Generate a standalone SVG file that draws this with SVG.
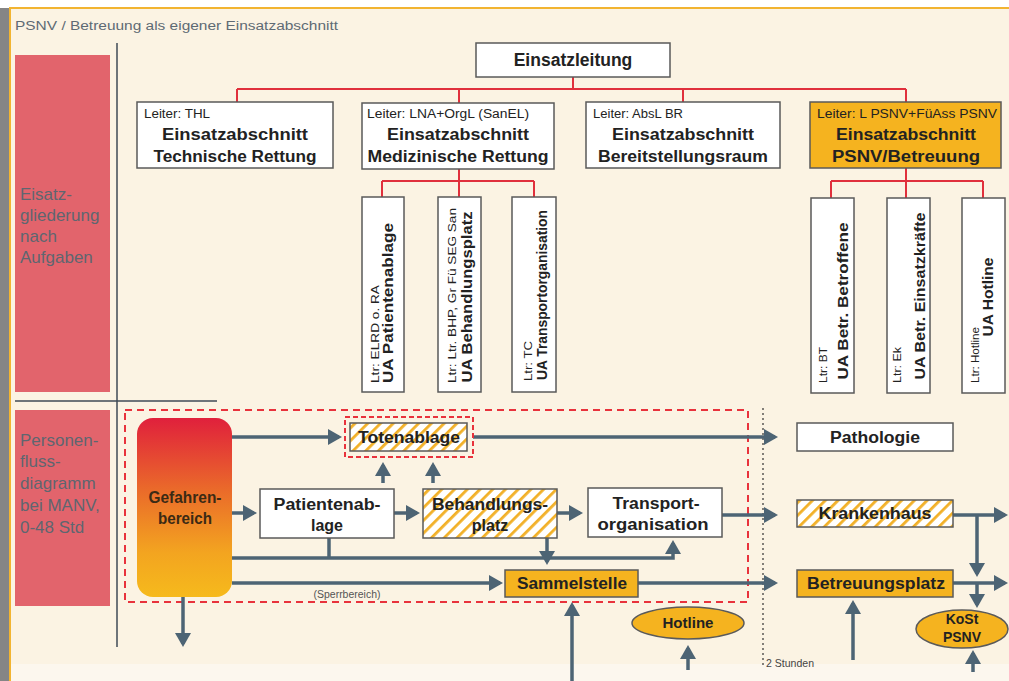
<svg xmlns="http://www.w3.org/2000/svg" width="1009" height="681" viewBox="0 0 1009 681">
<defs>
<style>
.bx{fill:#ffffff;stroke:#5a5a5a;stroke-width:1.5}
.or{fill:#f5b31f;stroke:#5a5a5a;stroke-width:1.5}
.ht{fill:url(#hatch);stroke:#5a5a5a;stroke-width:1.5}
.red{fill:none;stroke:#e0303c;stroke-width:2}
.ar{fill:none;stroke:#4d6474;stroke-width:3.5;marker-end:url(#ah)}
.ln{fill:none;stroke:#4d6474;stroke-width:3.5}
.t{font-family:"Liberation Sans",Arial,sans-serif;fill:#222}
.b{font-weight:bold}
.sm{font-size:12px}
.bg{font-size:16px}
.lbl{font-family:"Liberation Sans",Arial,sans-serif;font-size:17px;fill:#5e6670}
</style>
<pattern id="hatch" patternUnits="userSpaceOnUse" width="9" height="9" patternTransform="rotate(45)">
<rect width="9" height="9" fill="#ffffff"/>
<rect width="2.8" height="9" fill="#f2b027"/>
</pattern>
<linearGradient id="gef" x1="0" y1="0" x2="0" y2="1">
<stop offset="0" stop-color="#e0203c"/>
<stop offset="0.4" stop-color="#ea6a2a"/>
<stop offset="0.75" stop-color="#f3a420"/>
<stop offset="1" stop-color="#f6ba1c"/>
</linearGradient>
<marker id="ah" markerUnits="userSpaceOnUse" markerWidth="14" markerHeight="16" refX="11" refY="8" orient="auto">
<path d="M0,0 L14,8 L0,16 z" fill="#4d6474"/>
</marker>
</defs>

<!-- background / frame -->
<rect x="0" y="0" width="1009" height="681" fill="#ffffff"/>
<rect x="0" y="8" width="9" height="673" fill="#858585"/>
<rect x="10" y="8" width="1010" height="690" fill="#fbf3e3" stroke="#f2b431" stroke-width="2"/>
<rect x="11" y="664" width="998" height="17" fill="#fcf7ee"/>
<text x="15" y="30" font-family="Liberation Sans, Arial, sans-serif" font-size="12.5" fill="#5e6a74" textLength="323" lengthAdjust="spacingAndGlyphs">PSNV / Betreuung als eigener Einsatzabschnitt</text>

<!-- side panels -->
<g id="panel-top">
<rect x="15" y="55" width="95" height="337" fill="#e2646c"/>
<text class="lbl" x="20" y="200">Eisatz-</text>
<text class="lbl" x="20" y="221">gliederung</text>
<text class="lbl" x="20" y="242">nach</text>
<text class="lbl" x="20" y="263">Aufgaben</text>
</g>
<g id="panel-bottom">
<rect x="15" y="410" width="95" height="196" fill="#e2646c"/>
<text class="lbl" x="20" y="446">Personen-</text>
<text class="lbl" x="20" y="467">fluss-</text>
<text class="lbl" x="20" y="489">diagramm</text>
<text class="lbl" x="20" y="511">bei MANV,</text>
<text class="lbl" x="20" y="533">0-48 Std</text>
</g>
<line x1="117" y1="43" x2="117" y2="647" stroke="#3f4a56" stroke-width="1.5"/>
<line x1="15" y1="401" x2="217" y2="401" stroke="#3f4a56" stroke-width="1.5"/>

<!-- org chart connectors -->
<g id="org-connectors">
<path class="red" d="M573,77 V89 M237,89 H906 M237,89 V102 M459,89 V103 M683,89 V102 M906,89 V102"/>
<path class="red" d="M459,169 V181 M382,181 H534 M382,181 V197 M459,181 V197 M534,181 V197"/>
<path class="red" d="M906,168 V181 M831,181 H983 M831,181 V198 M906,181 V198 M983,181 V198"/>
</g>

<g id="einsatzleitung">
<rect class="bx" x="476" y="43" width="194" height="34"/>
<text class="t b" x="573" y="66" font-size="17.5" text-anchor="middle">Einsatzleitung</text>
</g>

<g id="ea-thl">
<rect class="bx" x="137" y="102" width="196" height="66"/>
<text class="t sm" x="144" y="118" textLength="66" lengthAdjust="spacingAndGlyphs">Leiter: THL</text>
<text class="t b bg" x="235" y="140" text-anchor="middle" textLength="146" lengthAdjust="spacingAndGlyphs">Einsatzabschnitt</text>
<text class="t b bg" x="235" y="162" text-anchor="middle" textLength="163" lengthAdjust="spacingAndGlyphs">Technische Rettung</text>
</g>
<g id="ea-med">
<rect class="bx" x="362" y="103" width="192" height="66"/>
<text class="t sm" x="367" y="118" textLength="162" lengthAdjust="spacingAndGlyphs">Leiter: LNA+OrgL (SanEL)</text>
<text class="t b bg" x="458" y="140" text-anchor="middle" textLength="142" lengthAdjust="spacingAndGlyphs">Einsatzabschnitt</text>
<text class="t b bg" x="458" y="162" text-anchor="middle" textLength="181" lengthAdjust="spacingAndGlyphs">Medizinische Rettung</text>
</g>
<g id="ea-br">
<rect class="bx" x="586" y="102" width="194" height="66"/>
<text class="t sm" x="593" y="118" textLength="90" lengthAdjust="spacingAndGlyphs">Leiter: AbsL BR</text>
<text class="t b bg" x="683" y="140" text-anchor="middle" textLength="142" lengthAdjust="spacingAndGlyphs">Einsatzabschnitt</text>
<text class="t b bg" x="683" y="162" text-anchor="middle" textLength="170" lengthAdjust="spacingAndGlyphs">Bereitstellungsraum</text>
</g>
<g id="ea-psnv">
<rect class="or" x="810" y="102" width="191" height="66"/>
<text class="t sm" x="817" y="118" textLength="180" lengthAdjust="spacingAndGlyphs">Leiter: L PSNV+FüAss PSNV</text>
<text class="t b bg" x="906" y="140" text-anchor="middle" textLength="140" lengthAdjust="spacingAndGlyphs">Einsatzabschnitt</text>
<text class="t b bg" x="906" y="162" text-anchor="middle" textLength="148" lengthAdjust="spacingAndGlyphs">PSNV/Betreuung</text>
</g>

<!-- UA boxes -->
<g id="ua-patientenablage">
<rect class="bx" x="362" y="197" width="42" height="195"/>
<text class="t" font-size="11.5" transform="translate(379,383) rotate(-90)" textLength="98" lengthAdjust="spacingAndGlyphs">Ltr: ELRD o. RA</text>
<text class="t b" font-size="14" text-anchor="middle" transform="translate(393,303) rotate(-90)" textLength="160" lengthAdjust="spacingAndGlyphs">UA Patientenablage</text>
</g>
<g id="ua-behandlungsplatz">
<rect class="bx" x="438" y="197" width="43" height="195"/>
<text class="t" font-size="11.5" transform="translate(456,383) rotate(-90)" textLength="175" lengthAdjust="spacingAndGlyphs">Ltr: Ltr. BHP, Gr Fü SEG San</text>
<text class="t b" font-size="14" text-anchor="middle" transform="translate(472,297) rotate(-90)" textLength="171" lengthAdjust="spacingAndGlyphs">UA Behandlungsplatz</text>
</g>
<g id="ua-transport">
<rect class="bx" x="512" y="197" width="44" height="195"/>
<text class="t" font-size="11.5" transform="translate(532,381) rotate(-90)" textLength="40" lengthAdjust="spacingAndGlyphs">Ltr: TC</text>
<text class="t b" font-size="14" text-anchor="middle" transform="translate(547,295) rotate(-90)" textLength="170" lengthAdjust="spacingAndGlyphs">UA Transportorganisation</text>
</g>
<g id="ua-betroffene">
<rect class="bx" x="811" y="198" width="43" height="195"/>
<text class="t" font-size="11.5" transform="translate(827,383) rotate(-90)" textLength="36" lengthAdjust="spacingAndGlyphs">Ltr: BT</text>
<text class="t b" font-size="14" text-anchor="middle" transform="translate(848,301) rotate(-90)" textLength="157" lengthAdjust="spacingAndGlyphs">UA Betr. Betroffene</text>
</g>
<g id="ua-einsatzkraefte">
<rect class="bx" x="887" y="198" width="43" height="195"/>
<text class="t" font-size="11.5" transform="translate(901,383) rotate(-90)" textLength="36" lengthAdjust="spacingAndGlyphs">Ltr: Ek</text>
<text class="t b" font-size="14" text-anchor="middle" transform="translate(925,296) rotate(-90)" textLength="167" lengthAdjust="spacingAndGlyphs">UA Betr. Einsatzkräfte</text>
</g>
<g id="ua-hotline">
<rect class="bx" x="962" y="198" width="43" height="195"/>
<text class="t" font-size="11.5" transform="translate(979,383) rotate(-90)" textLength="56" lengthAdjust="spacingAndGlyphs">Ltr: Hotline</text>
<text class="t b" font-size="14" text-anchor="middle" transform="translate(993,297) rotate(-90)" textLength="79" lengthAdjust="spacingAndGlyphs">UA Hotline</text>
</g>

<!-- flow diagram -->
<rect x="125" y="410" width="623" height="192" fill="none" stroke="#e8323c" stroke-width="2" stroke-dasharray="7 5"/>
<line x1="763" y1="408" x2="763" y2="668" stroke="#333" stroke-width="1.2" stroke-dasharray="2 3"/>
<text x="766" y="667" font-family="Liberation Sans, Arial, sans-serif" font-size="10.5" fill="#444" textLength="48" lengthAdjust="spacingAndGlyphs">2 Stunden</text>
<text x="347" y="598" font-family="Liberation Sans, Arial, sans-serif" font-size="10" fill="#555" text-anchor="middle" textLength="67" lengthAdjust="spacingAndGlyphs">(Sperrbereich)</text>

<g id="connectors">
<path class="ar" d="M232,437 H339"/>
<path class="ar" d="M473,437 H775"/>
<path class="ar" d="M383,483 V465"/>
<path class="ar" d="M433,483 V465"/>
<path class="ar" d="M232,513 H254"/>
<path class="ar" d="M394,513 H417"/>
<path class="ar" d="M557,513 H580"/>
<path class="ar" d="M722,515 H775"/>
<path class="ar" d="M232,558 H673 V543"/>
<path class="ln" d="M329,538 V558"/>
<path class="ar" d="M547,538 V562"/>
<path class="ar" d="M232,583 H500"/>
<path class="ar" d="M638,583 H775"/>
<path class="ar" d="M572,681 V605"/>
<path class="ar" d="M688,670 V648"/>
<path class="ar" d="M853,660 V603"/>
<path class="ar" d="M953,515 H1005"/>
<path class="ar" d="M977,515 V574"/>
<path class="ar" d="M953,583 H1005"/>
<path class="ar" d="M977,583 V605"/>
<path class="ar" d="M973,672 V653"/>
<path class="ar" d="M183,597 V644"/>
</g>

<g id="gefahrenbereich">
<rect x="137" y="418" width="95" height="179" rx="16" fill="url(#gef)"/>
<text class="t b bg" x="185" y="503" text-anchor="middle" style="fill:#3b2a14" textLength="73" lengthAdjust="spacingAndGlyphs">Gefahren-</text>
<text class="t b bg" x="185" y="524" text-anchor="middle" style="fill:#3b2a14" textLength="54" lengthAdjust="spacingAndGlyphs">bereich</text>
</g>
<g id="totenablage">
<rect x="345" y="417" width="128" height="40" fill="none" stroke="#e8323c" stroke-width="2" stroke-dasharray="5 3"/>
<rect class="ht" x="350" y="423" width="117" height="28"/>
<text class="t b bg" x="409" y="443" text-anchor="middle" textLength="102" lengthAdjust="spacingAndGlyphs">Totenablage</text>
</g>
<g id="pathologie">
<rect class="bx" x="797" y="423" width="156" height="28"/>
<text class="t b bg" x="875" y="443" text-anchor="middle" textLength="90" lengthAdjust="spacingAndGlyphs">Pathologie</text>
</g>
<g id="patientenablage">
<rect class="bx" x="260" y="489" width="134" height="49"/>
<text class="t b bg" x="327" y="510" text-anchor="middle" textLength="107" lengthAdjust="spacingAndGlyphs">Patientenab-</text>
<text class="t b bg" x="327" y="531" text-anchor="middle">lage</text>
</g>
<g id="behandlungsplatz">
<rect class="ht" x="423" y="489" width="134" height="49"/>
<text class="t b bg" x="490" y="510" text-anchor="middle" textLength="116" lengthAdjust="spacingAndGlyphs">Behandlungs-</text>
<text class="t b bg" x="490" y="531" text-anchor="middle">platz</text>
</g>
<g id="transportorganisation">
<rect class="bx" x="588" y="488" width="134" height="49"/>
<text class="t b bg" x="656" y="509" text-anchor="middle" textLength="87" lengthAdjust="spacingAndGlyphs">Transport-</text>
<text class="t b bg" x="653" y="530" text-anchor="middle" textLength="111" lengthAdjust="spacingAndGlyphs">organisation</text>
</g>
<g id="krankenhaus">
<rect class="ht" x="797" y="500" width="156" height="27"/>
<text class="t b bg" x="875" y="519" text-anchor="middle" textLength="113" lengthAdjust="spacingAndGlyphs">Krankenhaus</text>
</g>
<g id="sammelstelle">
<rect class="or" x="505" y="570" width="133" height="27"/>
<text class="t b bg" x="572" y="589" text-anchor="middle" textLength="110" lengthAdjust="spacingAndGlyphs">Sammelstelle</text>
</g>
<g id="betreuungsplatz">
<rect class="or" x="797" y="570" width="156" height="27"/>
<text class="t b bg" x="876" y="589" text-anchor="middle" textLength="138" lengthAdjust="spacingAndGlyphs">Betreuungsplatz</text>
</g>
<g id="hotline">
<ellipse class="or" cx="688" cy="623" rx="56" ry="16"/>
<text class="t b" font-size="15" x="688" y="628" text-anchor="middle" textLength="51" lengthAdjust="spacingAndGlyphs">Hotline</text>
</g>
<g id="kost-psnv">
<ellipse class="or" cx="962" cy="629" rx="46" ry="19"/>
<text class="t b" font-size="14" x="962" y="624" text-anchor="middle">KoSt</text>
<text class="t b" font-size="14" x="962" y="642" text-anchor="middle">PSNV</text>
</g>
</svg>
